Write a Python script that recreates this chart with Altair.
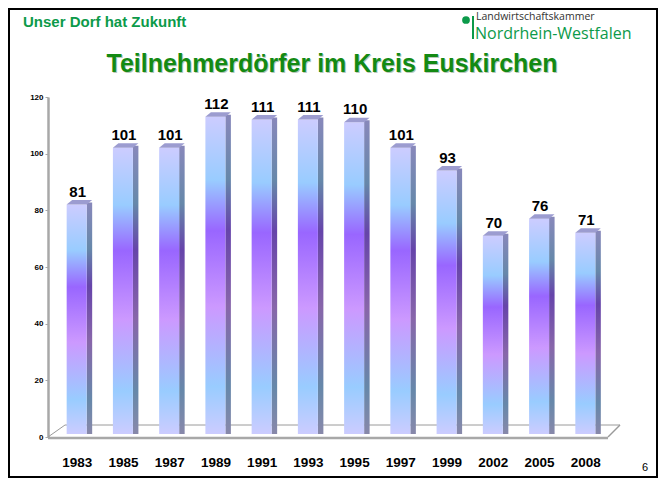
import altair as alt
import pandas as pd

years = ["1983", "1985", "1987", "1989", "1991", "1993", "1995", "1997", "1999", "2002", "2005", "2008"]
villages = [81, 101, 101, 112, 111, 111, 110, 101, 93, 70, 76, 71]
y_ticks = [0, 20, 40, 60, 80, 100, 120]

title_text = "Teilnehmerdörfer im Kreis Euskirchen"
header_text = "Unser Dorf hat Zukunft"
logo_top = "Landwirtschaftskammer"
logo_bottom = "Nordrhein-Westfalen"
page_no = "6"

df = pd.DataFrame({"year": years, "value": villages})
one = pd.DataFrame({"k": [0]})

FONT = "Liberation Sans"

X = alt.X("year:O", sort=years,
          scale=alt.Scale(type="point", padding=0.62),
          axis=alt.Axis(title=None, domain=False, ticks=False, labelAngle=0,
                        labelFontSize=13.5, labelFontWeight="bold", labelFont=FONT,
                        labelColor="black", labelPadding=18))
Y = alt.Y("value:Q", scale=alt.Scale(domain=[0, 120], nice=False, zero=True),
          axis=alt.Axis(title=None, grid=False, values=y_ticks, domainColor="#a8a8a8",
                        domainWidth=2.5, tickColor="#a8a8a8", tickSize=3, tickWidth=1,
                        labelFontSize=8, labelFontWeight="bold", labelFont=FONT,
                        labelColor="black", labelPadding=2))

front_grad = {"gradient": "linear", "x1": 0, "y1": 0, "x2": 0, "y2": 1,
              "stops": [{"offset": 0.0, "color": "#ccccff"},
                        {"offset": 0.2, "color": "#99ccff"},
                        {"offset": 0.36, "color": "#9966ff"},
                        {"offset": 0.6, "color": "#cc99ff"},
                        {"offset": 0.85, "color": "#99ccff"},
                        {"offset": 1.0, "color": "#ccccff"}]}
side_grad = {"gradient": "linear", "x1": 0, "y1": 0, "x2": 0, "y2": 1,
             "stops": [{"offset": 0.0, "color": "#8888bb"},
                       {"offset": 0.2, "color": "#6688aa"},
                       {"offset": 0.36, "color": "#6644aa"},
                       {"offset": 0.6, "color": "#8866aa"},
                       {"offset": 0.85, "color": "#6688aa"},
                       {"offset": 1.0, "color": "#8888aa"}]}

base = alt.Chart(df).encode(x=X, y=Y)

side = base.mark_bar(width=5.5, xOffset=12.75, yOffset=-5, y2Offset=-3,
                     color=side_grad).encode(y2=alt.datum(0))
front = base.mark_bar(width=20, yOffset=-3, y2Offset=-3, color=front_grad).encode(y2=alt.datum(0))
cap = base.mark_point(shape="M-0.625,0L0.625,0L0.969,-0.281L-0.281,-0.281Z", size=1024,
                      filled=True, color="#9c9cd0", opacity=1, strokeWidth=0, yOffset=-3)
labels = base.mark_text(font=FONT, fontSize=15, fontWeight="bold", color="black",
                        baseline="alphabetic", dy=-11, dx=1).encode(text="value:Q")

def rule(x, y, x2, y2, color, w):
    return alt.Chart(one).mark_rule(color=color, strokeWidth=w).encode(
        x=alt.value(x), y=alt.value(y), x2=alt.value(x2), y2=alt.value(y2))

floor_back = rule(17, 328, 572, 328, "#9a9a9a", 1)
floor_left = rule(0, 340, 17, 328, "#9a9a9a", 1)
floor_right = rule(560, 340, 572, 328, "#9a9a9a", 1.5)
floor_front = rule(0, 341, 560, 341, "#a8a8a8", 2.5)

def text(t, x, y, size, color, weight="normal", align="left", font=FONT):
    return alt.Chart(one).mark_text(text=t, fontSize=size, color=color, fontWeight=weight,
                                    align=align, baseline="alphabetic", font=font).encode(
        x=alt.value(x), y=alt.value(y))

title_shadow = text(title_text, 285, -24, 25, "#b8c8b8", "bold", "center")
title = text(title_text, 284, -25, 25, "#138a13", "bold", "center")
header = text(header_text, -25, -70, 15, "#0c9a4a", "bold")
logo1 = text(logo_top, 428, -77, 10.5, "#333333", font="Open Sans")
logo2 = text(logo_bottom, 427, -58, 16, "#0c9a4a", font="Open Sans")
dot = alt.Chart(one).mark_point(filled=True, size=60, color="#0c9a4a", opacity=1).encode(
    x=alt.value(418), y=alt.value(-77))
bar_logo = rule(425, -81, 425, -58, "#0c9a4a", 2)
page = text(page_no, 594, 374, 11, "black")

frame = alt.Chart(one).mark_rect(fill=None, stroke="black", strokeWidth=2).encode(
    x=alt.value(-39), x2=alt.value(609), y=alt.value(-88), y2=alt.value(380))

chart = alt.layer(
    floor_back, floor_left, side, front, cap, labels, floor_right, floor_front,
    title_shadow, title, header, logo1, logo2, dot, bar_logo, page, frame
).properties(
    width=566, height=340,
    padding={"left": 40, "top": 89, "right": 44, "bottom": 43},
    autosize=alt.AutoSizeParams(type="none"),
    background="white",
).configure_view(stroke=None)

chart.save("out.html", embed_options={"renderer": "svg", "actions": False})
